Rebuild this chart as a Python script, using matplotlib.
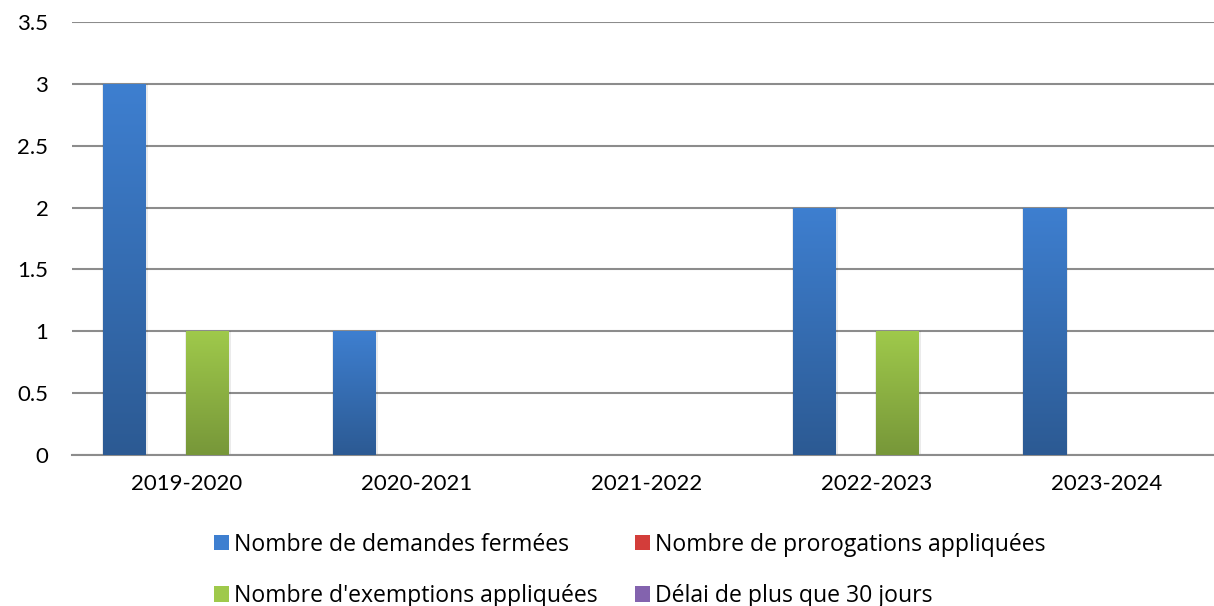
import matplotlib
matplotlib.use("Agg")
import matplotlib.pyplot as plt
import numpy as np
from matplotlib.colors import LinearSegmentedColormap
from matplotlib.patches import Patch

categories = ["2019-2020", "2020-2021", "2021-2022", "2022-2023", "2023-2024"]
series_names = ["Nombre de demandes fermées", "Nombre de prorogations appliquées",
                "Nombre d'exemptions appliquées", "Délai de plus que 30 jours"]
demandes = [3, 1, 0, 2, 2]
prorogations = [0, 0, 0, 0, 0]
exemptions = [1, 0, 0, 1, 0]
delai = [0, 0, 0, 0, 0]
yticks = [0, 0.5, 1, 1.5, 2, 2.5, 3, 3.5]

series = [demandes, prorogations, exemptions, delai]
top_colors = ["#3E7FD0", "#D33D3A", "#9FC94B", "#8363AE"]
bot_colors = ["#2C5A93", "#A42B28", "#779739", "#5F4585"]

plt.rcParams['font.family'] = ['Lato', 'DejaVu Sans']
W, H = 1214, 606
fig = plt.figure(figsize=(W / 100, H / 100), dpi=100)
ax = fig.add_axes([72 / W, 151 / H, 1150 / W, 433 / H])

x = np.arange(len(categories))
slot = 41.5 / 230
bw = 43 / 230
offsets = [-1.5 * slot, -0.5 * slot, 0.5 * slot, 1.5 * slot]

for vals, off, tc, bc in zip(series, offsets, top_colors, bot_colors):
    bars = ax.bar(x + off, vals, width=bw, color=bc, zorder=3, linewidth=0)
    cmap = LinearSegmentedColormap.from_list("g", [bc, tc])
    grad = np.linspace(0, 1, 256).reshape(-1, 1)
    for b in bars:
        h = b.get_height()
        if h <= 0:
            continue
        x0 = b.get_x()
        w = b.get_width()
        ax.bar(x0 + w / 2, h, width=w * 1.06, color="#000000", alpha=0.08,
               zorder=2.5, linewidth=0)
        im = ax.imshow(grad, extent=[x0, x0 + w, 0, h], origin="lower",
                       cmap=cmap, aspect="auto", zorder=4)
        im.set_clip_path(b)

ax.set_xlim(-0.5, len(categories) - 0.5)
ax.set_ylim(0, 3.5)
ax.set_yticks(yticks)
ax.set_yticklabels([f"{t:g}" for t in yticks])
ax.set_xticks(x)
ax.set_xticklabels(categories)
ax.yaxis.grid(True, color="#8C8C8C", linewidth=1.5, zorder=0)
ax.set_axisbelow(True)
for s in ["top", "right", "left"]:
    ax.spines[s].set_visible(False)
ax.spines["bottom"].set_color("#8C8C8C")
ax.spines["bottom"].set_linewidth(1.5)
ax.tick_params(axis="both", length=0, labelsize=16, colors="#000000")
ax.tick_params(axis="y", pad=17)
ax.tick_params(axis="x", pad=14)

order = [0, 2, 1, 3]
handles = [Patch(facecolor=top_colors[i], edgecolor="none") for i in order]
labels = [series_names[i] for i in order]
leg = fig.legend(handles, labels, ncol=2, loc="center",
                 bbox_to_anchor=(630 / W, 1 - 570.5 / H), frameon=False,
                 prop={"family": "Open Sans", "size": 16.6},
                 handlelength=0.66, handleheight=0.66,
                 handletextpad=0.22, columnspacing=1.6, labelspacing=1.2,
                 borderaxespad=0, borderpad=0)

fig.savefig("out.png", dpi=100)
